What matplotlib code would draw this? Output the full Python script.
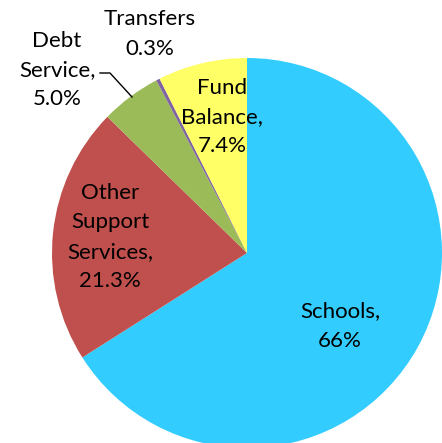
import matplotlib.pyplot as plt

labels = ["Schools", "Other Support Services", "Debt Service", "Transfers", "Fund Balance"]
shares = [66.0, 21.3, 5.0, 0.3, 7.4]
label_text = ["Schools,\n66%", "Other\nSupport\nServices,\n21.3%", "Debt\nService,\n5.0%",
              "Transfers\n0.3%", "Fund\nBalance,\n7.4%"]
colors = ["#33CCFF", "#C0504D", "#9BBB59", "#8064A2", "#FFFF66"]

# label centres in pixel space (origin bottom-left)
label_pos = [(340, 117), (110, 206), (57, 373), (150, 409), (222, 326)]

W, H = 442, 443
fig = plt.figure(figsize=(W / 100, H / 100), dpi=100)
ax = fig.add_axes([0, 0, 1, 1])

ax.pie(shares, colors=colors, startangle=90, counterclock=False,
       center=(247, 190), radius=195, frame=True,
       wedgeprops=dict(linewidth=0))
ax.set_xlim(0, W)
ax.set_ylim(0, H)
ax.set_aspect('equal')
ax.axis('off')

for txt, (x, y) in zip(label_text, label_pos):
    ax.text(x, y, txt, ha='center', va='center', fontsize=16, family='Lato',
            linespacing=1.58, color='black')

# leader line for the debt service label
ax.plot([100, 110, 132], [H - 73, H - 73, H - 97], color='black', lw=1)

fig.savefig('out.png', dpi=100)
